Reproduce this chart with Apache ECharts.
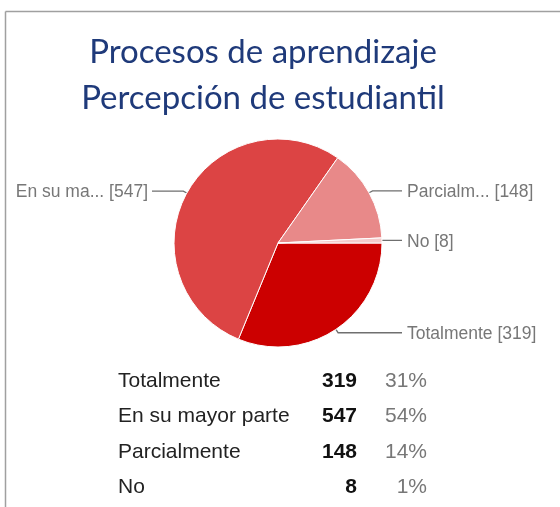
<!DOCTYPE html>
<html>
<head>
<meta charset="utf-8">
<script src="https://cdn.jsdelivr.net/npm/echarts@6/dist/echarts.min.js"></script>
<style>
html,body{margin:0;padding:0;background:#fff;}
#chart{width:560px;height:507px;}
</style>
</head>
<body>
<div id="chart"></div>
<script>
// ---- data ----
var titleLines = ["Procesos de aprendizaje", "Percepción de estudiantil"];
var categories = ["Totalmente", "En su mayor parte", "Parcialmente", "No"];
var shortLabels = ["Totalmente", "En su ma...", "Parcialm...", "No"];
var values = [319, 547, 148, 8];
var colors = ["#cc0000", "#dc4444", "#e88989", "#f4cccc"];

var total = values.reduce(function (a, b) { return a + b; }, 0);
var percents = values.map(function (v) { return Math.round(v / total * 100) + "%"; });

var chart = echarts.init(document.getElementById('chart'), null, {renderer: 'canvas'});

var cx = 278, cy = 243;
var graphics = [];
// frame
graphics.push({type: 'line', shape: {x1: 5.5, y1: 11.5, x2: 560, y2: 11.5}, style: {stroke: '#a0a0a0', lineWidth: 1.5}, z: 10});
graphics.push({type: 'line', shape: {x1: 5.5, y1: 11.5, x2: 5.5, y2: 507}, style: {stroke: '#a0a0a0', lineWidth: 1.5}, z: 10});
// title
titleLines.forEach(function (t, i) {
  graphics.push({type: 'text', x: 263, y: 52 + i * 46, style: {text: t, fill: '#1f3a7a', font: '33px Lato', align: 'center', verticalAlign: 'middle'}});
});
// table
var rowY = [381, 416, 452, 487];
categories.forEach(function (c, i) {
  graphics.push({type: 'text', x: 118, y: rowY[i], style: {text: c, fill: '#222', font: '21px "Liberation Sans", Arial', align: 'left', verticalAlign: 'middle'}});
  graphics.push({type: 'text', x: 357, y: rowY[i], style: {text: String(values[i]), fill: '#111', font: 'bold 21px "Liberation Sans", Arial', align: 'right', verticalAlign: 'middle'}});
  graphics.push({type: 'text', x: 427, y: rowY[i], style: {text: percents[i], fill: '#777', font: '21px "Liberation Sans", Arial', align: 'right', verticalAlign: 'middle'}});
});

var data = categories.map(function (c, i) {
  return {name: c, value: values[i], itemStyle: {color: colors[i]}};
});

chart.setOption({
  animation: false,
  backgroundColor: '#fff',
  graphic: graphics,
  series: [{
    type: 'pie',
    center: [cx, cy],
    radius: 104,
    startAngle: 0,
    clockwise: true,
    avoidLabelOverlap: false,
    data: data,
    itemStyle: {borderColor: '#fff', borderWidth: 1},
    emphasis: {disabled: true},
    label: {
      show: true,
      formatter: function (p) { return shortLabels[p.dataIndex] + ' [' + p.value + ']'; },
      color: '#777',
      fontSize: 17.5,
      fontFamily: '"Liberation Sans", Arial'
    },
    labelLine: {show: true, length: 4, length2: 20, lineStyle: {color: '#6f6f6f', width: 1.3}},
    labelLayout: function (p) {
      var pts = p.labelLinePoints;
      var isRight = (p.labelRect.x + p.labelRect.width / 2) > cx;
      var endX = isRight ? 402 : 152;
      var res = {
        x: isRight ? 407 : 148,
        y: pts ? pts[1][1] + 1.5 : undefined,
        align: isRight ? 'left' : 'right',
        verticalAlign: 'middle'
      };
      if (pts) {
        pts[2] = [endX, pts[1][1]];
        res.labelLinePoints = pts;
      }
      return res;
    }
  }]
});
</script>
</body>
</html>
